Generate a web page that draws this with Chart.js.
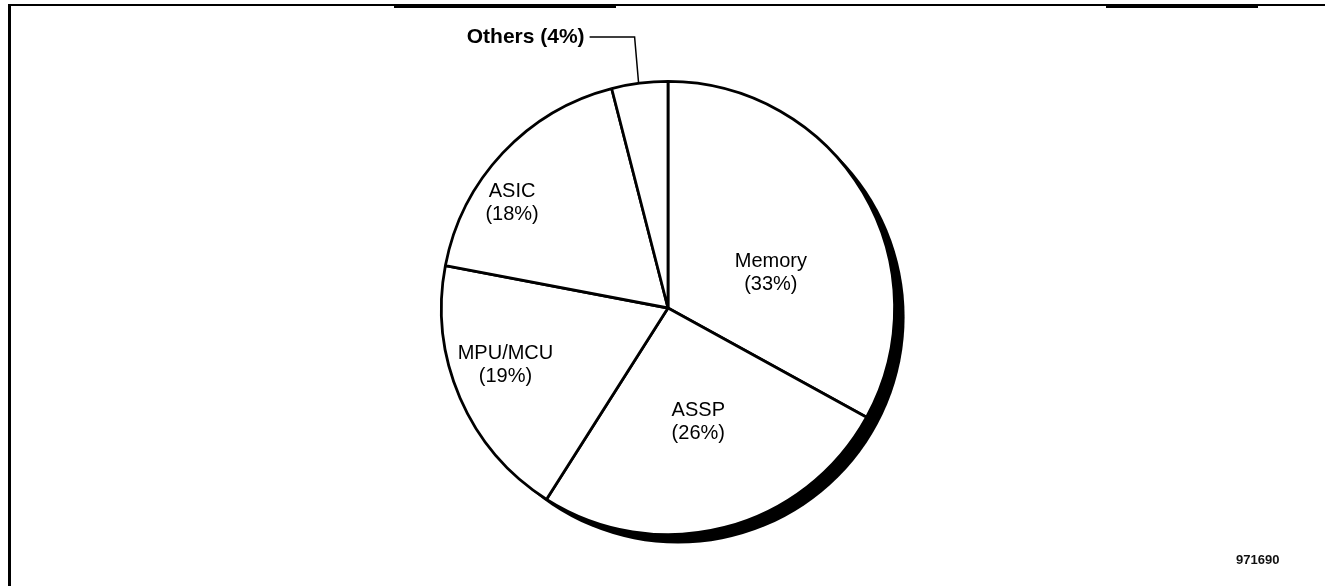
<!DOCTYPE html>
<html>
<head>
<meta charset="utf-8">
<script src="https://cdn.jsdelivr.net/npm/chart.js@4.4.1/dist/chart.umd.min.js"></script>
<style>
  html, body { margin: 0; padding: 0; background: #fff; }
  #wrap { position: relative; width: 1325px; height: 586px; overflow: hidden; }
  #frame {
    position: absolute; left: 8px; top: 4px; right: -10px; bottom: -10px;
    border-left: 3px solid #000; border-top: 2px solid #000;
  }
  .thick { position: absolute; top: 4px; height: 4px; background: #000; }
  #tag {
    position: absolute; left: 1236px; top: 552px;
    font: bold 13px "Liberation Sans", Arial, sans-serif; color: #111;
  }
</style>
</head>
<body>
<div id="wrap">
  <div id="frame"></div>
  <div class="thick" style="left:394px;width:222px"></div>
  <div class="thick" style="left:1106px;width:152px"></div>
  <canvas id="pie" width="1325" height="586"></canvas>
  <div id="tag">971690</div>
</div>
<script>
// data
const categories = ["Memory", "ASSP", "MPU/MCU", "ASIC", "Others"];
const shares = [33, 26, 19, 18, 4];

// where each text block sits: angle shift (deg) from slice middle, radius fraction
const labelShift = [11.6, -0.5, 4.1, -9.2, 0];
const labelRadius = [0.48, 0.52, 0.76, 0.83, 1];

const FONT = '20px "Liberation Sans", Arial, sans-serif';
const LINE_H = 23;

// black crescent under the pie, offset down-right
const shadowPlugin = {
  id: "shadow",
  beforeDatasetsDraw(chart) {
    const arc = chart.getDatasetMeta(0).data[0];
    if (!arc) return;
    const ctx = chart.ctx;
    ctx.save();
    ctx.fillStyle = "#000";
    ctx.beginPath();
    ctx.arc(arc.x + 10, arc.y + 9, arc.outerRadius, 0, Math.PI * 2);
    ctx.fill();
    ctx.restore();
  },
};

const labelPlugin = {
  id: "sliceLabels",
  afterDatasetsDraw(chart) {
    const ctx = chart.ctx;
    const arcs = chart.getDatasetMeta(0).data;
    ctx.save();
    ctx.fillStyle = "#000";
    ctx.font = FONT;
    ctx.textBaseline = "middle";
    arcs.forEach((arc, i) => {
      const mid = (arc.startAngle + arc.endAngle) / 2 + (labelShift[i] * Math.PI) / 180;
      if (i === categories.length - 1) {
        // outside label with elbow leader
        const ex = arc.x + arc.outerRadius * Math.cos(mid);
        const ey = arc.y + arc.outerRadius * Math.sin(mid);
        const ty = 37;
        ctx.strokeStyle = "#000";
        ctx.lineWidth = 1.5;
        ctx.beginPath();
        ctx.moveTo(ex - 1, ey);
        ctx.lineTo(ex - 5, ty);
        ctx.lineTo(ex - 50, ty);
        ctx.stroke();
        ctx.textAlign = "right";
        ctx.font = 'bold 21px "Liberation Sans", Arial, sans-serif';
        ctx.fillText(`${categories[i]} (${shares[i]}%)`, ex - 55, ty);
        ctx.font = FONT;
        return;
      }
      const r = arc.outerRadius * labelRadius[i];
      const cx = arc.x + r * Math.cos(mid);
      const cy = arc.y + r * Math.sin(mid);
      ctx.textAlign = "center";
      ctx.fillText(categories[i], cx, cy - LINE_H / 2);
      ctx.fillText(`(${shares[i]}%)`, cx, cy + LINE_H / 2);
    });
    ctx.restore();
  },
};

new Chart(document.getElementById("pie"), {
  type: "pie",
  data: {
    labels: categories,
    datasets: [
      {
        data: shares,
        backgroundColor: "#fff",
        borderColor: "#000",
        borderWidth: 2.8,
        hoverOffset: 0,
      },
    ],
  },
  options: {
    responsive: false,
    animation: false,
    events: [],
    layout: { padding: { top: 80, bottom: 50, left: 440, right: 429 } },
    plugins: {
      legend: { display: false },
      tooltip: { enabled: false },
    },
  },
  plugins: [shadowPlugin, labelPlugin],
});
</script>
</body>
</html>
